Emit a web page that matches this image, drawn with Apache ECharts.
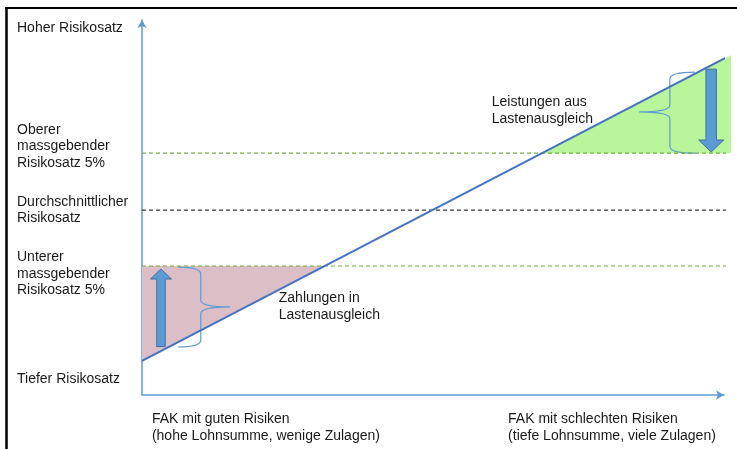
<!DOCTYPE html>
<html>
<head>
<meta charset="utf-8">
<script src="https://cdn.jsdelivr.net/npm/echarts@6/dist/echarts.min.js"></script>
<style>
html, body { margin: 0; padding: 0; background: #fff; }
#chart { width: 737px; height: 449px; }
</style>
</head>
<body>
<div id="chart"></div>
<script>
// schematische Achsen 0..100
const lineX = [0, 102.2]
const lineY = [9.07, 91.5]

const upperRate = 64.5
const meanRate = 49.3
const lowerRate = 34.4
const upperEnd = 101
const meanEnd = 101.9
const lowerEnd = 101.9

const greenArea = [[68.8, 64.5], [101.2, 90.6], [101.2, 64.5]]
const pinkArea = [[0, 34.4], [31.4, 34.4], [0, 9.07]]

// [x, start y, tip y]
const arrows = [[3.26, 12.9, 33.6], [97.8, 86.9, 64.8]]
// [end x, bend x, tip x, top y, tip y, bottom y]
const braces = [[6.19, 10.1, 15.1, 34.1, 23.5, 12.8], [95.0, 90.7, 85.4, 86.1, 75.5, 64.5]]

// [x, y, text]
const notes = [[60.1, 75.7, 'Leistungen aus\nLastenausgleich'], [23.5, 23.6, 'Zahlungen in\nLastenausgleich']]

const yTickValues = [97.9, 66.3, 49.3, 32.3, 4.3]
const yTickLabels = ['Hoher Risikosatz', 'Oberer\nmassgebender\nRisikosatz 5%', 'Durchschnittlicher\nRisikosatz', 'Unterer\nmassgebender\nRisikosatz 5%', 'Tiefer Risikosatz']
const xTickValues = [1.7, 62.9]
const xTickLabels = ['FAK mit guten Risiken\n(hohe Lohnsumme, wenige Zulagen)', 'FAK mit schlechten Risiken\n(tiefe Lohnsumme, viele Zulagen)']

const FONT = '"Liberation Sans", Arial, sans-serif'
const TEXT = '#1a1a1a'
const AXIS = '#5b9bd5'
const arrowSizes = [{ shaft: 8.5, headW: 21, headH: 10 }, { shaft: 10.5, headW: 25, headH: 12 }]

function pickLabel(values, labels, v) {
  let best = 0
  values.forEach((x, i) => { if (Math.abs(x - v) < Math.abs(values[best] - v)) best = i })
  return labels[best]
}

function areaSeries(points, color) {
  return {
    type: 'custom',
    silent: true,
    data: [0],
    renderItem: (params, api) => ({
      type: 'polygon',
      shape: { points: points.map(p => api.coord(p)) },
      style: { fill: color }
    })
  }
}

function dashed(y, end, color, width) {
  return {
    type: 'line',
    silent: true,
    symbol: 'none',
    clip: false,
    data: [[0, y], [end, y]],
    lineStyle: { color, width, type: [4, 3] }
  }
}

const chart = echarts.init(document.getElementById('chart'))

chart.setOption({
  animation: false,
  grid: { left: 142, right: 13, top: 20, bottom: 54, outerBoundsMode: 'none', containLabel: false },
  xAxis: {
    type: 'value', min: 0, max: 100,
    splitLine: { show: false },
    axisTick: { show: false },
    axisLine: { lineStyle: { color: AXIS, width: 1.5 }, symbol: ['none', 'arrow'], symbolSize: [7, 8] },
    axisLabel: {
      customValues: xTickValues,
      formatter: v => pickLabel(xTickValues, xTickLabels, v),
      align: 'left', margin: 16, lineHeight: 17,
      fontSize: 14, fontFamily: FONT, color: TEXT
    }
  },
  yAxis: {
    type: 'value', min: 0, max: 100,
    splitLine: { show: false },
    axisTick: { show: false },
    axisLine: { show: true, lineStyle: { color: AXIS, width: 1.5 }, symbol: ['none', 'arrow'], symbolSize: [7, 8] },
    axisLabel: {
      customValues: yTickValues,
      formatter: v => pickLabel(yTickValues, yTickLabels, v),
      align: 'left', margin: 125, lineHeight: 16.7,
      fontSize: 14, fontFamily: FONT, color: TEXT
    }
  },
  graphic: [
    { type: 'line', shape: { x1: 6.5, y1: 7, x2: 6.5, y2: 449 }, style: { stroke: '#000', lineWidth: 2.5 } },
    { type: 'line', shape: { x1: 5, y1: 8, x2: 737, y2: 8 }, style: { stroke: '#000', lineWidth: 2 } }
  ],
  series: [
    areaSeries(pinkArea, '#dbbec6'),
    areaSeries(greenArea, '#b9f59a'),
    dashed(upperRate, upperEnd, '#6fb23f', 1.2),
    dashed(meanRate, meanEnd, '#3a3a3a', 1.2),
    dashed(lowerRate, lowerEnd, '#6fb23f', 1.2),
    {
      type: 'line',
      silent: true,
      symbol: 'none',
      clip: false,
      data: lineX.map((x, i) => [x, lineY[i]]),
      lineStyle: { color: '#4472c4', width: 2 }
    },
    {
      type: 'custom',
      silent: true,
      data: braces,
      renderItem: (params, api) => {
        const [x0, xb, xt, yt, ym, yb] = braces[params.dataIndex]
        const X0 = api.coord([x0, yt])[0]
        const Xb = api.coord([xb, yt])[0]
        const Xt = api.coord([xt, yt])[0]
        const Yt = api.coord([x0, yt])[1]
        const Ym = api.coord([x0, ym])[1]
        const Yb = api.coord([x0, yb])[1]
        const r = 7
        const d = `M${X0},${Yt} Q${Xb},${Yt} ${Xb},${Yt + r} L${Xb},${Ym - r} Q${Xb},${Ym} ${Xt},${Ym} ` +
          `Q${Xb},${Ym} ${Xb},${Ym + r} L${Xb},${Yb - r} Q${Xb},${Yb} ${X0},${Yb}`
        return { type: 'path', shape: { pathData: d }, style: { fill: null, stroke: AXIS, lineWidth: 1.2 } }
      }
    },
    {
      type: 'custom',
      silent: true,
      data: arrows,
      renderItem: (params, api) => {
        const [x, y0, y1] = arrows[params.dataIndex]
        const s = arrowSizes[params.dataIndex]
        const p0 = api.coord([x, y0])
        const p1 = api.coord([x, y1])
        const cx = p0[0]
        const dir = p1[1] < p0[1] ? -1 : 1
        const hb = p1[1] - dir * s.headH
        const pts = [
          [cx - s.shaft / 2, p0[1]], [cx - s.shaft / 2, hb], [cx - s.headW / 2, hb],
          [cx, p1[1]],
          [cx + s.headW / 2, hb], [cx + s.shaft / 2, hb], [cx + s.shaft / 2, p0[1]]
        ]
        return { type: 'polygon', shape: { points: pts }, style: { fill: '#5b9bd5', stroke: '#41719c', lineWidth: 1 } }
      }
    },
    {
      type: 'custom',
      silent: true,
      data: notes.map(n => [n[0], n[1]]),
      renderItem: (params, api) => {
        const [x, y, text] = notes[params.dataIndex]
        const p = api.coord([x, y])
        return {
          type: 'text', x: p[0], y: p[1],
          style: { text, fill: TEXT, fontSize: 14, fontFamily: FONT, lineHeight: 17, align: 'left', verticalAlign: 'middle' }
        }
      }
    }
  ]
})
</script>
</body>
</html>
